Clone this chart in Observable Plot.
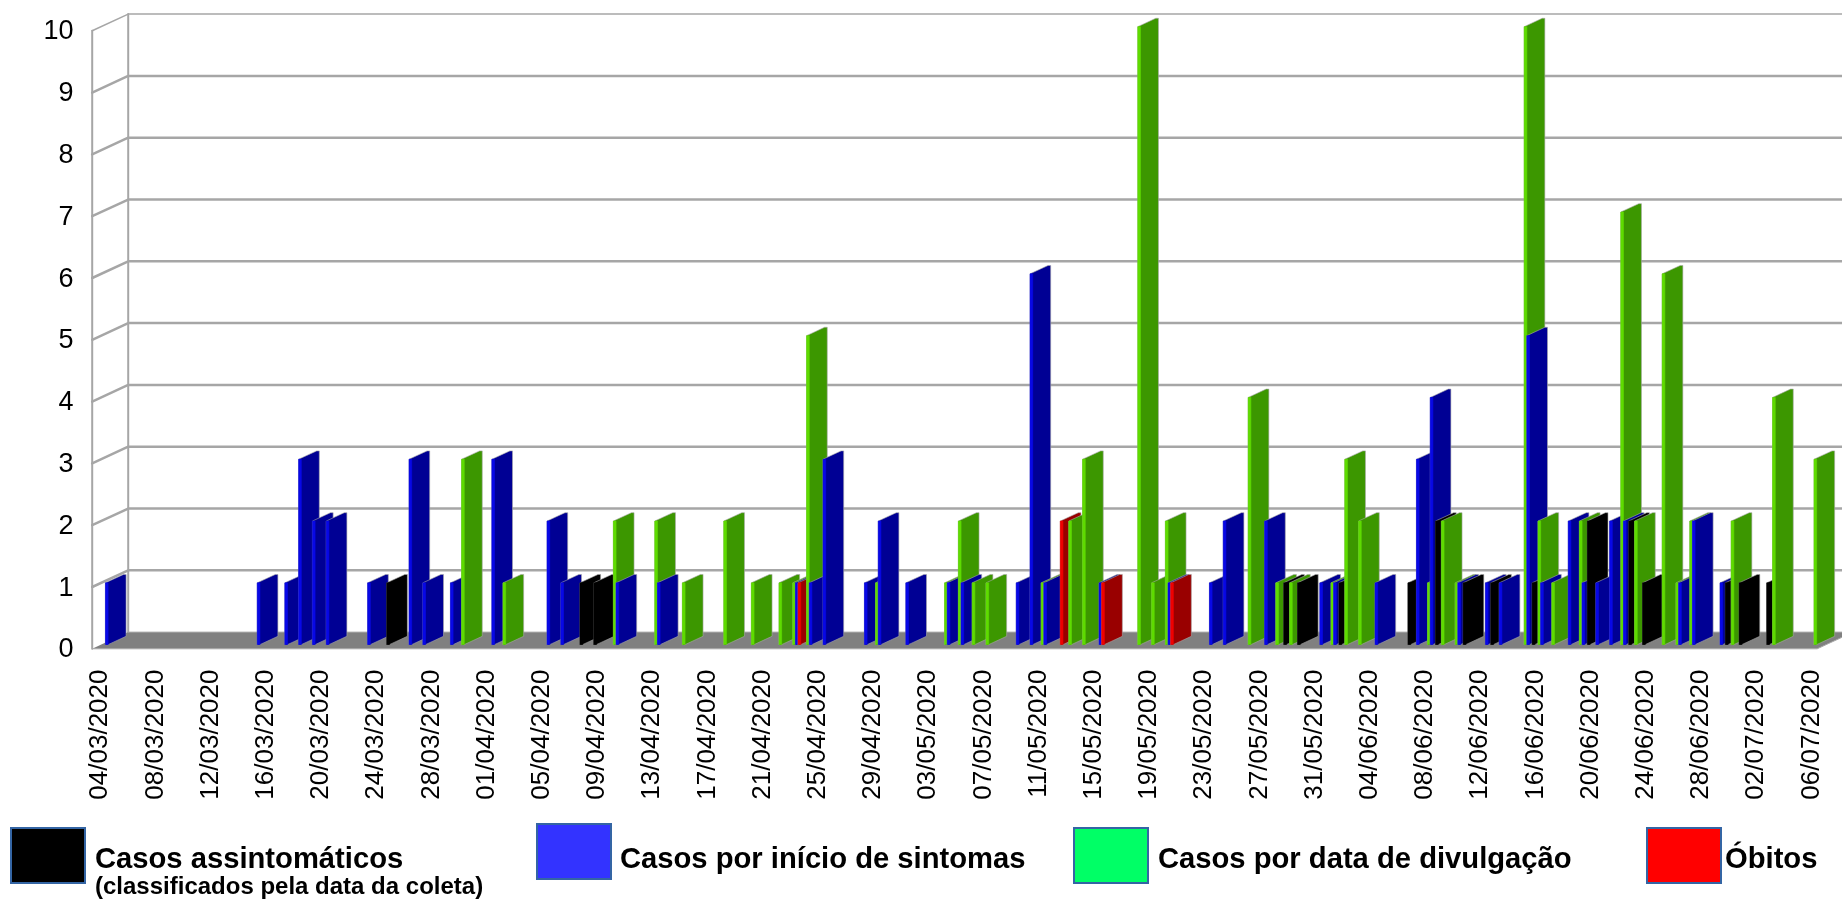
<!DOCTYPE html>
<html lang="pt">
<head>
<meta charset="utf-8">
<script src="https://cdn.jsdelivr.net/npm/d3@7"></script>
<script src="https://cdn.jsdelivr.net/npm/@observablehq/plot@0.6"></script>
<style>
  html, body { margin: 0; padding: 0; background: #fff; overflow: hidden; }
  #chart svg { display: block; filter: blur(0.45px); }
  #legend { position: relative; width: 1842px; height: 89px; font-family: "Liberation Sans", Arial, sans-serif; color: #000; filter: blur(0.35px); overflow: hidden; }
  .sw { position: absolute; box-sizing: border-box; width: 76px; height: 57px; border: 2px solid #3465a4; }
  .lb { position: absolute; font-weight: bold; font-size: 29.2px; line-height: 32px; white-space: nowrap; }
  .sub { position: absolute; font-weight: bold; font-size: 24px; line-height: 22px; white-space: nowrap; }
</style>
</head>
<body>
<div id="chart"></div>
<div id="legend"></div>
<script>
// Day index counted from 04/03/2020
const greenDays   = [26,29,37,40,42,45,47,49,50,51,56,61,62,63,64,68,70,71,75,76,77,83,85,86,89,90,91,96,97,98,103,104,105,107,110,111,113,114,115,118,121,124];
const greenValues = [3,1,2,2,1,2,1,1,1,5,1,1,2,1,1,1,2,3,10,1,2,4,1,1,1,3,2,1,2,1,10,2,1,2,7,2,6,1,2,2,4,3];
const blueDays    = [0,11,13,14,15,16,19,22,23,25,28,32,33,37,40,50,51,52,55,56,58,61,62,66,67,68,72,77,80,81,84,88,89,92,95,96,98,100,101,103,104,106,107,108,109,110,114,115,117];
const blueValues  = [1,1,1,3,2,2,1,3,1,1,3,2,1,1,1,1,1,3,1,2,1,1,1,1,6,1,1,1,1,2,2,1,1,1,3,4,1,1,1,5,1,2,1,1,2,2,1,2,1];
const redDays     = [50,69,72,77];
const redValues   = [1,2,1,1];
const blackDays   = [20,34,35,85,86,89,94,96,98,100,103,107,110,111,117,118,120];
const blackValues = [1,1,1,1,1,1,1,2,1,1,1,2,2,1,1,1,1];

const tickLabels = ["04/03/2020","08/03/2020","12/03/2020","16/03/2020","20/03/2020","24/03/2020","28/03/2020","01/04/2020","05/04/2020","09/04/2020","13/04/2020","17/04/2020","21/04/2020","25/04/2020","29/04/2020","03/05/2020","07/05/2020","11/05/2020","15/05/2020","19/05/2020","23/05/2020","27/05/2020","31/05/2020","04/06/2020","08/06/2020","12/06/2020","16/06/2020","20/06/2020","24/06/2020","28/06/2020","02/07/2020","06/07/2020"];
const categoryCount = 125;
const yTicks = [0,1,2,3,4,5,6,7,8,9,10];

const legendItems = [
  {name: "Casos assintomáticos", note: "(classificados pela data da coleta)", color: "#000000", left: 10, top: 827, text: 95},
  {name: "Casos por início de sintomas", color: "#3333ff", left: 536, top: 823, text: 620},
  {name: "Casos por data de divulgação", color: "#00ff66", left: 1073, top: 827, text: 1158},
  {name: "Óbitos", color: "#ff0000", left: 1646, top: 827, text: 1725}
];

// Order inside a category, with front and side shades of each series
const series = [
  {days: greenDays, values: greenValues, front: "#5fdc00", side: "#3c9700"},
  {days: blueDays,  values: blueValues,  front: "#0808e6", side: "#000094"},
  {days: redDays,   values: redValues,   front: "#f00000", side: "#990000"},
  {days: blackDays, values: blackValues, front: "#000000", side: "#000000"}
];

// 3D box projection, in scale units
const depthX = 2.609, depthY = 0.27;     // full depth of the floor
const slot = 0.192;                      // width of one series in a category
const barDepth = 0.5;                    // share of the depth taken by a bar
const inset = (1 - barDepth) / 2;

const polys = [];
const bars = [];
series.forEach((s, i) => s.days.forEach((d, k) => bars.push({d, i, v: s.values[k], s})));
bars.sort((a, b) => a.d - b.d || a.i - b.i);
bars.forEach((b, n) => {
  const x0 = b.d + 0.5 + (b.i - 2) * slot + depthX * inset;
  const y0 = depthY * inset;
  const y1 = b.v + y0;
  const w = slot, dx = depthX * barDepth, dy = depthY * barDepth;
  const side = [[x0, y0], [x0, y1], [x0 + dx, y1 + dy], [x0 + dx + w, y1 + dy], [x0 + dx + w, y0 + dy], [x0 + w, y0]];
  const front = [[x0, y0], [x0, y1], [x0 + w, y1], [x0 + w, y0]];
  side.forEach(p => polys.push({x: p[0], y: p[1], id: n + "s", fill: b.s.side, edge: "#a8a8a8"}));
  front.forEach(p => polys.push({x: p[0], y: p[1], id: n + "f", fill: b.s.front, edge: b.s.front}));
});

const floor = [[0, 0], [categoryCount, 0], [categoryCount + depthX, depthY], [depthX, depthY]].map(([x, y]) => ({x, y}));
const gridRows = [];
yTicks.forEach(v => {
  gridRows.push({x: 0, y: v, v}, {x: depthX, y: v + depthY, v}, {x: categoryCount + depthX + 2, y: v + depthY, v});
});
const walls = [
  {x: 0, y: 0, id: "a"}, {x: 0, y: 10, id: "a"},
  {x: depthX, y: depthY, id: "b"}, {x: depthX, y: 10 + depthY, id: "b"}
];

const plot = Plot.plot({
  width: 1842, height: 810,
  marginLeft: 91.7, marginRight: 25.3, marginTop: 30.3, marginBottom: 161.7,
  style: {fontFamily: '"Liberation Sans", Arial, sans-serif', color: "#000", background: "#fff"},
  x: {domain: [0, categoryCount]},
  y: {domain: [0, 10]},
  color: {type: "identity"},
  marks: [
    Plot.line(gridRows.filter(d => d.v > 0 && d.v < 10), {x: "x", y: "y", z: "v", stroke: "#a6a6a6", strokeWidth: 2.5, curve: "linear"}),
    Plot.line(gridRows.filter(d => d.v === 10), {x: "x", y: "y", z: "v", stroke: "#a6a6a6", strokeWidth: 1.5, curve: "linear"}),
    Plot.line(walls, {x: "x", y: "y", z: "id", stroke: "#a6a6a6", strokeWidth: 2}),
    Plot.line(floor, {x: "x", y: "y", fill: "#808080", stroke: "#a8a8a8", strokeWidth: 1}),
    Plot.line(polys, {x: "x", y: "y", z: "id", fill: "fill", stroke: "edge", strokeWidth: 0.6, curve: "linear"}),
    Plot.axisY({ticks: yTicks, tickSize: 0, tickPadding: 18.7, fontSize: 27, tickFormat: d => String(d), label: null}),
    Plot.axisX({ticks: tickLabels.map((_, i) => i * 4 + 0.5), tickSize: 0, tickPadding: 20.7, fontSize: 26, tickRotate: -90,
      tickFormat: d => tickLabels[Math.round((d - 0.5) / 4)], label: null})
  ]
});
document.getElementById("chart").appendChild(plot);

const svgHeight = 810;
const legend = document.getElementById("legend");
legendItems.forEach(it => {
  const sw = document.createElement("div");
  sw.className = "sw";
  sw.style.left = it.left + "px";
  sw.style.top = (it.top - svgHeight) + "px";
  sw.style.background = it.color;
  legend.appendChild(sw);
  const lb = document.createElement("div");
  lb.className = "lb";
  lb.style.left = it.text + "px";
  lb.style.top = (842 - svgHeight) + "px";
  lb.textContent = it.name;
  legend.appendChild(lb);
  if (it.note) {
    const sub = document.createElement("div");
    sub.className = "sub";
    sub.style.left = it.text + "px";
    sub.style.top = (874.5 - svgHeight) + "px";
    sub.textContent = it.note;
    legend.appendChild(sub);
  }
});
</script>
</body>
</html>
